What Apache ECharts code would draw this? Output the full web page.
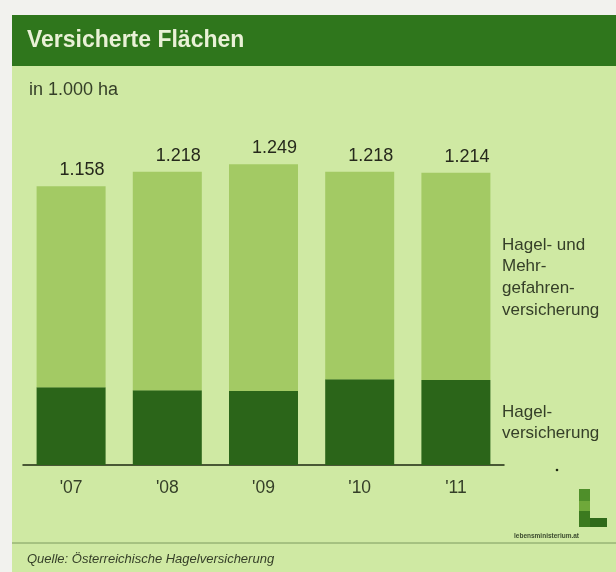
<!DOCTYPE html>
<html>
<head>
<meta charset="utf-8">
<script src="https://cdn.jsdelivr.net/npm/echarts@6/dist/echarts.min.js"></script>
<style>
  html, body { margin: 0; padding: 0; background: #f2f2ee; }
  #chart { width: 616px; height: 572px; }
</style>
</head>
<body>
<div id="chart"></div>
<script>
// Versicherte Flächen, in 1.000 ha
const years = ["'07", "'08", "'09", "'10", "'11"];
const totals = [1158, 1218, 1249, 1218, 1214];
const hagel = [323, 311, 307, 356, 353];           // Hagelversicherung (dark)
const mehrgefahren = [835, 907, 942, 862, 861];    // Hagel- und Mehrgefahrenversicherung (light)

const font = '"Liberation Sans", Arial, sans-serif';
const textColor = '#353f28';

const chart = echarts.init(document.getElementById('chart'));

const option = {
  backgroundColor: '#f2f2ee',
  animation: false,
  grid: { left: 23, width: 481, top: 128, bottom: 107 },
  xAxis: {
    type: 'category',
    data: years,
    axisLine: { lineStyle: { color: '#1e2812', width: 1.5 } },
    axisTick: { show: false },
    axisLabel: { color: textColor, fontFamily: font, fontSize: 17.5, margin: 14 }
  },
  yAxis: {
    type: 'value',
    min: 0,
    max: 1400,
    show: false
  },
  graphic: [
    { type: 'rect', z: -10, shape: { x: 12, y: 15, width: 604, height: 557 }, style: { fill: '#cfe9a3' } },
    { type: 'rect', z: -9, shape: { x: 12, y: 15, width: 604, height: 51 }, style: { fill: '#2f761c' } },
    { type: 'text', left: 27, top: 29, style: { text: 'Versicherte Flächen', fill: '#e9f1d6', font: 'bold 23px ' + font } },
    { type: 'text', left: 29, top: 81, style: { text: 'in 1.000 ha', fill: textColor, font: '18px ' + font } },
    { type: 'text', left: 502, top: 234, style: { text: 'Hagel- und\nMehr-\ngefahren-\nversicherung', fill: textColor, font: '17px ' + font, lineHeight: 21.7 } },
    { type: 'text', left: 502, top: 402, style: { text: 'Hagel-\nversicherung', fill: textColor, font: '17px ' + font, lineHeight: 21 } },
    { type: 'circle', shape: { cx: 557, cy: 470, r: 1.3 }, style: { fill: '#1e2812' } },
    // logo
    { type: 'rect', shape: { x: 579, y: 489, width: 11, height: 12 }, style: { fill: '#4f8f2a' } },
    { type: 'rect', shape: { x: 579, y: 501, width: 11, height: 10 }, style: { fill: '#6fa83a' } },
    { type: 'rect', shape: { x: 579, y: 511, width: 11, height: 16 }, style: { fill: '#3c7a1f' } },
    { type: 'rect', shape: { x: 590, y: 518, width: 17, height: 9 }, style: { fill: '#2f6a1a' } },
    { type: 'text', left: 514, top: 533, style: { text: 'lebensministerium.at', fill: '#3b4a2e', font: 'bold 6.5px ' + font } },
    { type: 'line', shape: { x1: 12, y1: 543, x2: 616, y2: 543 }, style: { stroke: '#7d9a5e', lineWidth: 1 } },
    { type: 'text', left: 27, top: 553, style: { text: 'Quelle: Österreichische Hagelversicherung', fill: textColor, font: 'italic 13px ' + font } }
  ],
  series: [
    {
      name: 'Hagelversicherung',
      type: 'bar',
      stack: 'flaeche',
      data: hagel,
      barWidth: 69,
      itemStyle: { color: '#2b6519' }
    },
    {
      name: 'Hagel- und Mehrgefahrenversicherung',
      type: 'bar',
      stack: 'flaeche',
      data: mehrgefahren,
      barWidth: 69,
      itemStyle: { color: '#a3ca64' },
      label: {
        show: true,
        position: 'top',
        distance: 7,
        offset: [11, 0],
        color: '#26291c',
        fontFamily: font,
        fontSize: 18,
        formatter: (p) => (totals[p.dataIndex] / 1000).toFixed(3)
      }
    }
  ]
};

chart.setOption(option);
</script>
</body>
</html>
